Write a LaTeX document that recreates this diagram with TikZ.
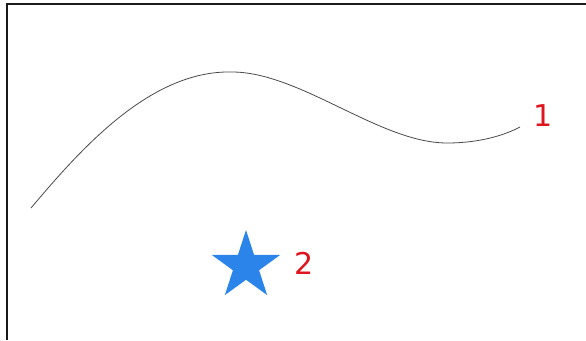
\documentclass[tikz,border=0pt]{standalone}
\usepackage{fontspec}
\usepackage{xcolor}
\usepackage{tikz}
\setmainfont{DejaVu Sans}
\usetikzlibrary{positioning,shapes.geometric}
\definecolor{framegray}{HTML}{1A1A1A}
\definecolor{curvegray}{HTML}{4A4A4A}
\definecolor{starblue}{HTML}{2A84E9}
\definecolor{labelred}{HTML}{E0141E}

\begin{document}
\begin{tikzpicture}[x=1pt, y=-1pt, font=\fontsize{30}{32}\selectfont]
  \tikzset{marklabel/.style={text=labelred, inner sep=0pt, anchor=center},
           bigstar/.style={star, star points=5, star point ratio=2.618, fill=starblue, draw=none, inner sep=0pt, minimum size=72pt}}
  \useasboundingbox (0,0) rectangle (586,340);
  % frame
  \draw[framegray, line width=2pt] (7,340) -- (7,4) -- (586,4);
  % curve
  \coordinate (c1start) at (31,208);
  \coordinate (c1top) at (232,72);
  \coordinate (c1low) at (447,143);
  \coordinate (c1end) at (520,127);
  \draw[curvegray, line width=0.8pt] (c1start) .. controls (80,150) and (150,70) .. (c1top)
    .. controls (300,72) and (380,143) .. (c1low)
    .. controls (480,143) and (505,135) .. (c1end);
  \node[marklabel] (lab1) at (543,116) {1};
  % star
  \node[bigstar] (star) at (246,266) {};
  \node[marklabel] (lab2) at (304,263) {2};
\end{tikzpicture}
\end{document}
